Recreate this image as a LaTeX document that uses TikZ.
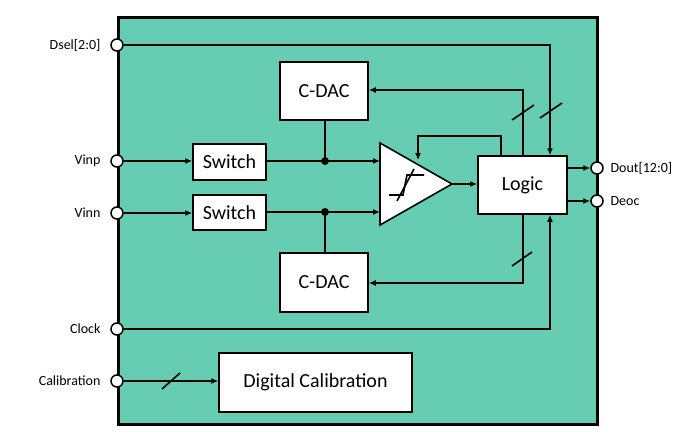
\documentclass[tikz,border=0pt]{standalone}
\usepackage{fontspec}
\setmainfont{Carlito}
\usetikzlibrary{arrows.meta}
\begin{document}
\begin{tikzpicture}[x=1pt,y=-1pt,
  blk/.style={draw,fill=white,line width=1.5pt,inner sep=0pt,font=\fontsize{20}{20}\selectfont},
  pin/.style={circle,draw,fill=white,line width=1.5pt,minimum size=12pt,inner sep=0pt},
  lbl/.style={font=\fontsize{14}{14}\selectfont},
  w/.style={line width=1.6pt},
  a/.style={w,-{Latex[length=7pt,width=6pt]}},
  sl/.style={w}]
\useasboundingbox (0,0) rectangle (700,439);
\draw[line width=3pt,fill={rgb,255:red,102;green,204;blue,178}] (118,17) rectangle (597,424);
\node[blk,minimum width=88pt,minimum height=58pt] (dac1) at (324,91) {C-DAC};
\node[blk,minimum width=88pt,minimum height=59pt] (dac2) at (324,282.5) {C-DAC};
\node[blk,minimum width=73pt,minimum height=36pt] (sw1) at (229.5,162) {Switch};
\node[blk,minimum width=73pt,minimum height=35pt] (sw2) at (229.5,212.5) {Switch};
\node[blk,minimum width=89pt,minimum height=58pt] (logic) at (522.5,185) {Logic};
\node[blk,minimum width=193pt,minimum height=59pt] (cal) at (315.5,382.5) {Digital Calibration};
\draw[w,fill=white] (380,143) coordinate (tl) -- (452,184) coordinate (tip) -- (380,225) coordinate (bl) -- cycle;
\draw[w] (389,195) -- (403,195) -- (407,175) -- (424,175);
\draw[w] (397,201) -- (414,169);
\node[pin] (dsel) at (117,45) {};
\node[pin] (vinp) at (117,161) {};
\node[pin] (vinn) at (117,213) {};
\node[pin] (clk) at (117,329) {};
\node[pin] (calp) at (117,381) {};
\node[pin] (dout) at (597,168) {};
\node[pin] (deoc) at (597,201) {};
\node[lbl,anchor=east] at (104,45) {Dsel[2:0]};
\node[lbl,anchor=east] at (104,161) {Vinp};
\node[lbl,anchor=east] at (104,213) {Vinn};
\node[lbl,anchor=east] at (104,329) {Clock};
\node[lbl,anchor=east] at (104,381) {Calibration};
\node[lbl,anchor=west] at (607,168) {Dout[12:0]};
\node[lbl,anchor=west] at (607,201) {Deoc};
\draw[a] (vinp) -- (sw1.west |- vinp);
\draw[a] (vinn) -- (sw2.west |- vinn);
\coordinate (d1) at (325,161);
\coordinate (d2) at (325,212);
\draw[a] (sw1.east |- d1) -- (380,161);
\draw[a] (sw2.east |- d2) -- (380,212);
\fill (d1) circle (4pt); \fill (d2) circle (4pt);
\draw[w] (dac1.south -| d1) -- (d1);
\draw[w] (dac2.north -| d2) -- (d2);
\draw[a] (tip) -- (logic.west |- tip);
\draw[a] (logic.north -| 523,0) -- (523,90) -- (dac1.east |- 0,90);
\draw[a] (logic.south -| 523,0) -- (523,283) -- (dac2.east |- 0,283);
\draw[a] (logic.north -| 501,0) -- (501,136) -- (418,136) -- (418,160);
\draw[a] (dsel) -- (550,45) -- (logic.north -| 550,0);
\draw[a] (clk) -- (550,329) -- (logic.south -| 550,0);
\draw[a] (logic.east |- dout) -- (dout);
\draw[a] (logic.east |- deoc) -- (deoc);
\draw[a] (calp) -- (cal.west |- calp);
\draw[sl] (512,120) -- (534,105);
\draw[sl] (540,118) -- (562,103);
\draw[sl] (512,266) -- (532,252);
\draw[sl] (162,389) -- (180,373);
\end{tikzpicture}
\end{document}
